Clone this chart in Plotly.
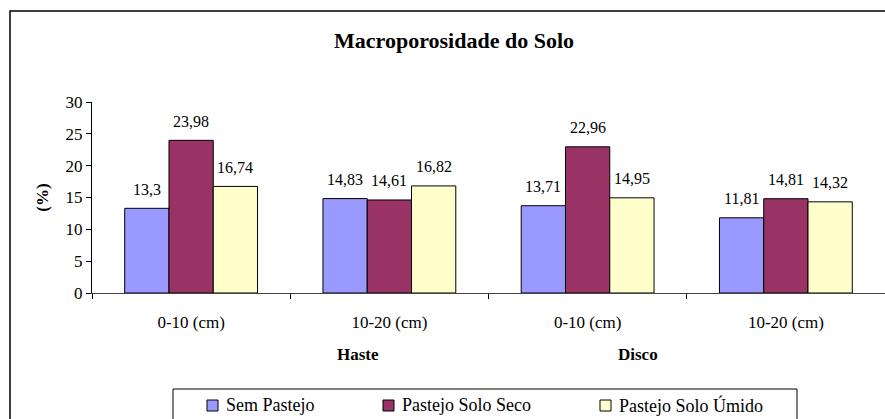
import plotly.graph_objects as go

# ---- data ----
categories = ["0-10 (cm)", "10-20 (cm)", "0-10 (cm)", "10-20 (cm)"]
category_ids = ["Haste 0-10", "Haste 10-20", "Disco 0-10", "Disco 10-20"]
groups = ["Haste", "Disco"]
series_names = ["Sem Pastejo", "Pastejo Solo Seco", "Pastejo Solo Úmido"]
sem_pastejo = [13.3, 14.83, 13.71, 11.81]
pastejo_solo_seco = [23.98, 14.61, 22.96, 14.81]
pastejo_solo_umido = [16.74, 16.82, 14.95, 14.32]
y_ticks = [0, 5, 10, 15, 20, 25, 30]

series_values = [sem_pastejo, pastejo_solo_seco, pastejo_solo_umido]
colors = ["#9999FF", "#993366", "#FFFFCC"]

FONT = "Liberation Serif"


def fmt(v):
    s = ("%.2f" % v).rstrip("0").rstrip(".")
    return s.replace(".", ",")


W, H = 885, 419
L, R, T, B = 92, 0, 102, 126
plot_w = W - L - R
plot_h = H - T - B
BARGAP = 0.33
n_series = len(series_values)
bar_px = plot_w / len(category_ids) * (1 - BARGAP) / n_series


def px_x(x):
    return (x - L) / plot_w


def px_y(y):
    return (H - B - y) / plot_h


fig = go.Figure()
for i, (name, vals, col) in enumerate(zip(series_names, series_values, colors)):
    fig.add_trace(go.Bar(
        name=name,
        x=category_ids,
        y=vals,
        marker=dict(color=col, line=dict(color="black", width=1)),
        showlegend=False,
    ))
    # value labels above the bars
    for cid, v in zip(category_ids, vals):
        fig.add_annotation(
            x=cid, y=v, xref="x", yref="y",
            text=fmt(v), showarrow=False,
            xshift=(i - (n_series - 1) / 2) * bar_px, yshift=19,
            xanchor="center", yanchor="middle",
            font=dict(family=FONT, size=16, color="black"),
        )

fig.update_layout(
    width=W, height=H,
    margin=dict(l=L, r=R, t=T, b=B, autoexpand=False),
    paper_bgcolor="white",
    plot_bgcolor="white",
    barmode="group",
    bargap=BARGAP,
    bargroupgap=0,
    font=dict(family=FONT, size=16, color="black"),
    title=dict(
        text="<b>Macroporosidade do Solo</b>",
        font=dict(family=FONT, size=22, color="black"),
        x=px_x(454), xref="paper", xanchor="center",
        y=1 - 40 / H, yref="container", yanchor="middle",
    ),
    xaxis=dict(
        type="category",
        tickmode="array",
        tickvals=category_ids,
        ticktext=categories,
        tickson="boundaries",
        ticks="outside", ticklen=5, tickcolor="black",
        showline=True, linecolor="#444444", linewidth=1,
        showgrid=False, zeroline=False,
        tickfont=dict(family=FONT, size=17, color="black"),
        ticklabelstandoff=14,
    ),
    yaxis=dict(
        range=[0, 30],
        tickmode="array", tickvals=y_ticks,
        ticks="outside", ticklen=5, tickcolor="black",
        showline=True, linecolor="black", linewidth=1,
        showgrid=False, zeroline=False,
        tickfont=dict(family=FONT, size=17, color="black"),
        title=dict(text="<b>(%)</b>", font=dict(family=FONT, size=17, color="black"), standoff=12),
    ),
    showlegend=False,
)

# group labels
group_x = [358, 638]
for g, gx in zip(groups, group_x):
    fig.add_annotation(
        text="<b>%s</b>" % g, x=px_x(gx), y=px_y(354), xref="paper", yref="paper",
        showarrow=False, font=dict(family=FONT, size=17, color="black"),
        xanchor="center", yanchor="middle",
    )

# outer chart border
fig.add_shape(
    type="rect", xref="paper", yref="paper",
    x0=px_x(10), x1=px_x(895), y0=px_y(440), y1=px_y(11),
    line=dict(color="black", width=1.5), fillcolor="rgba(0,0,0,0)", layer="below",
)

# legend box with entries (built from series names and colours)
fig.add_shape(
    type="rect", xref="paper", yref="paper",
    x0=px_x(173), x1=px_x(797), y0=px_y(445), y1=px_y(389),
    line=dict(color="black", width=1), fillcolor="white",
)
legend_x = [207, 383, 600]
for name, col, lx in zip(series_names, colors, legend_x):
    fig.add_shape(
        type="rect", xref="paper", yref="paper",
        x0=px_x(lx), x1=px_x(lx + 11), y0=px_y(411), y1=px_y(400),
        line=dict(color="black", width=1), fillcolor=col,
    )
    fig.add_annotation(
        text=name, x=px_x(lx + 17), y=px_y(405), xref="paper", yref="paper",
        showarrow=False, xanchor="left", yanchor="middle",
        font=dict(family=FONT, size=18, color="black"),
    )

fig.write_html(
    "out.html",
    config={"displayModeBar": False},
    post_script="document.body.style.margin='0';document.body.style.overflow='hidden';",
)
